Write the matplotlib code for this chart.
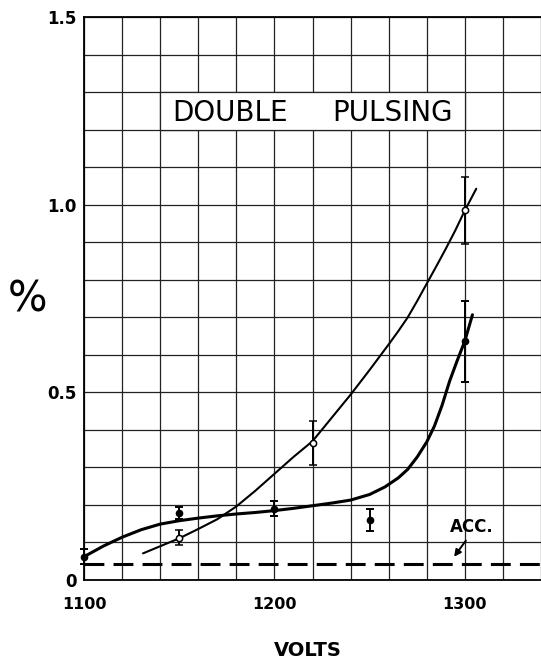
import numpy as np
import matplotlib
matplotlib.use("Agg")
import matplotlib.pyplot as plt
from matplotlib.patches import Rectangle

# ---- data ----
filled_v = [1100, 1150, 1200, 1250, 1300]
filled_y = [0.062, 0.178, 0.190, 0.160, 0.637]
filled_err = [0.020, 0.016, 0.020, 0.029, 0.108]

open_v = [1150, 1220, 1300]
open_y = [0.112, 0.366, 0.985]
open_err = [0.020, 0.059, 0.090]

curve_a_v = [1131, 1140, 1150, 1160, 1170, 1180, 1190, 1200, 1210, 1220, 1230,
             1240, 1250, 1260, 1265, 1270, 1275, 1280, 1285, 1290, 1295, 1300, 1306]
curve_a_y = [0.071, 0.090, 0.111, 0.136, 0.162, 0.196, 0.238, 0.283, 0.328, 0.370,
             0.432, 0.494, 0.560, 0.628, 0.663, 0.700, 0.744, 0.790, 0.836, 0.883,
             0.932, 0.985, 1.043]

curve_b_v = [1100, 1110, 1120, 1130, 1140, 1150, 1160, 1170, 1180, 1190, 1200,
             1210, 1220, 1230, 1240, 1250, 1258, 1265, 1270, 1275, 1280, 1284,
             1288, 1292, 1296, 1300, 1304]
curve_b_y = [0.062, 0.090, 0.114, 0.134, 0.149, 0.158, 0.165, 0.171, 0.176, 0.180,
             0.185, 0.191, 0.198, 0.205, 0.213, 0.228, 0.248, 0.272, 0.295, 0.328,
             0.368, 0.410, 0.465, 0.530, 0.585, 0.637, 0.707]

acc_level = 0.042

x_major = [1100, 1200, 1300]
x_labels = ["1100", "1200", "1300"]
y_major = [0, 0.5, 1.0, 1.5]
y_labels = ["0", "0.5", "1.0", "1.5"]

title_words = ["DOUBLE", "PULSING"]

# ---- figure ----
fig = plt.figure(figsize=(5.41, 6.58), dpi=100)
ax = fig.add_axes([84 / 541, 78 / 658, 1 - 84 / 541, (580 - 17.3) / 658])
ax.set_xlim(1100, 1336.2)
ax.set_ylim(0, 1.5)

ax.set_xticks(x_major)
ax.set_xticklabels(x_labels, fontsize=11.5, fontweight="bold")
ax.set_xticks(np.arange(1100, 1341, 20), minor=True)
ax.set_yticks(y_major)
ax.set_yticklabels(y_labels, fontsize=12, fontweight="bold")
ax.set_yticks(np.arange(0, 1.51, 0.1), minor=True)
ax.tick_params(which="both", length=0)
ax.tick_params(axis="x", pad=12)
ax.tick_params(axis="y", pad=5)
ax.set_axisbelow(True)
ax.grid(which="both", color="#222222", linewidth=0.9)
for s in ["left", "bottom", "top"]:
    ax.spines[s].set_linewidth(1.3)
ax.spines["right"].set_visible(False)

# title box with white background over grid
ax.add_patch(Rectangle((1140, 1.2), 160, 0.1, facecolor="white",
                       edgecolor="#222222", linewidth=0.9, zorder=1))
ax.text(1176.7, 1.245, title_words[0], fontsize=20, ha="center", va="center", zorder=2)
ax.text(1261.8, 1.245, title_words[1], fontsize=20, ha="center", va="center", zorder=2)

# curves
ax.plot(curve_a_v, curve_a_y, color="black", linewidth=1.5, zorder=3,
        solid_capstyle="round", solid_joinstyle="round")
ax.plot(curve_b_v, curve_b_y, color="black", linewidth=2.2, zorder=3,
        solid_capstyle="round", solid_joinstyle="round")

# accidental level
ax.axhline(acc_level, color="black", linewidth=2.2, dashes=(6.5, 3), zorder=3)

# data points
eb1 = ax.errorbar(filled_v, filled_y, yerr=filled_err, fmt="o", color="black",
                  markersize=4.5, elinewidth=1.4, capsize=2.6, capthick=1.4, zorder=4)
eb2 = ax.errorbar(open_v, open_y, yerr=open_err, fmt="o", color="black",
                  markerfacecolor="white", markeredgecolor="black", markeredgewidth=1.1,
                  markersize=4.5, elinewidth=1.4, capsize=2.6, capthick=1.4, zorder=4)
for eb in (eb1, eb2):
    for artist in eb.get_children():
        artist.set_clip_on(False)

# ACC. label with arrow
ax.annotate("", xy=(1293.5, 0.056), xytext=(1301.4, 0.111),
            arrowprops=dict(arrowstyle="-|>", color="black", lw=1.4,
                            mutation_scale=10), zorder=5)
ax.text(1303.5, 0.142, "ACC.", fontsize=12, fontweight="bold", ha="center",
        va="center", zorder=5)

fig.text(28 / 541, 1 - 300 / 658, "%", fontsize=30, ha="center", va="center")
fig.text(308 / 541, 1 - 650 / 658, "VOLTS", fontsize=14, fontweight="bold",
         ha="center", va="center")

fig.savefig("out.png", dpi=100)
